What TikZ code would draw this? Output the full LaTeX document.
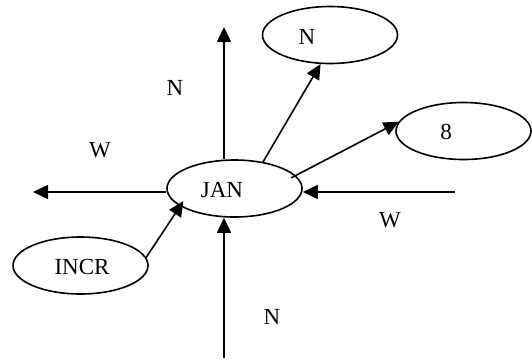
\documentclass[tikz,border=0pt]{standalone}
\usepackage{fontspec}
\setmainfont{Liberation Serif}
\usetikzlibrary{arrows.meta,shapes.geometric}

\tikzset{
    oval/.style={draw, ellipse, line width=1.6pt, minimum width=135pt, minimum height=57pt, inner sep=0pt},
    txt/.style={font=\fontsize{23}{27}\selectfont, inner sep=0pt},
    link/.style={line width=1.6pt, -{Triangle[length=15pt,width=14pt]}}
}

\begin{document}
\begin{tikzpicture}[x=1pt, y=-1pt]
                \useasboundingbox (0,0) rectangle (532,360);
                \node[oval] (jan) at (234.5,188.5) {};
                \node[oval] (north) at (330,35) {};
                \node[oval] (eight) at (463.5,131) {};
                \node[oval] (incr) at (80.5,265.5) {};
                \node[txt] (jant) at (222,190) {JAN};
                \node[txt] (northt) at (307,37) {N};
                \node[txt] (eightt) at (446,132) {8};
                \node[txt] (incrt) at (82,267) {INCR};
                \coordinate (nup) at (224,27);
                \coordinate (ndown) at (224,358);
                \coordinate (wleft) at (33,192);
                \coordinate (wright) at (455,192);
                \draw[link] (jan.north -| nup) -- (nup);
                \draw[link] (ndown) -- (jan.south -| ndown);
                \draw[link] (jan.west |- wleft) -- (wleft);
                \draw[link] (wright) -- (jan.east |- wright);
                \draw[link] (jan.43) -- (north.252);
                \draw[link, shorten <=-5pt] (jan.12) -- (eight.172);
                \draw[link, shorten >=-6pt] (incr.7) -- (jan.198);
                \node[txt] (lup) at (175,88) {N};
                \node[txt] (lleft) at (100,150) {W};
                \node[txt] (lright) at (390,220) {W};
                \node[txt] (ldown) at (272,317) {N};
            \end{tikzpicture}
\end{document}
